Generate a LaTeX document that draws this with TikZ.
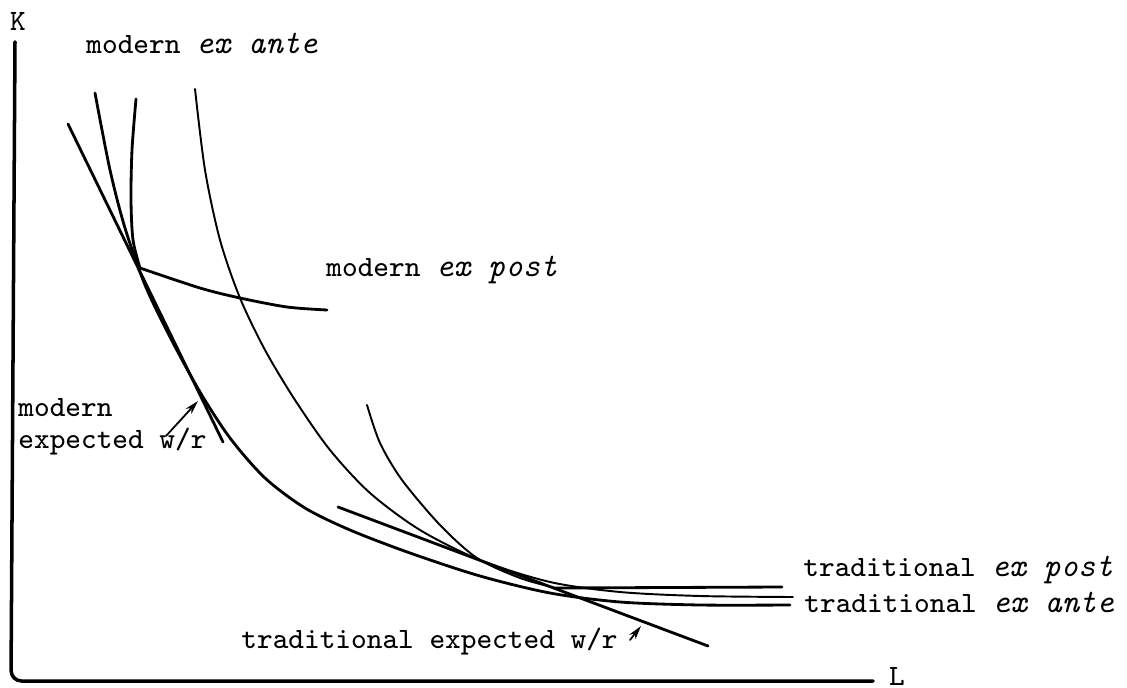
\documentclass[tikz,border=0pt]{standalone}
\usetikzlibrary{arrows.meta}
\newcommand{\exit}[1]{{\fontsize{9.4}{9.1}\selectfont\itshape #1}}
\begin{document}
\begin{tikzpicture}[line width=0.8pt, line cap=round, line join=round,
  lbl/.style={font=\fontsize{8.4}{9.1}\selectfont\ttfamily, inner sep=0pt},
  iso/.style={line width=0.8pt},
  isothin/.style={line width=0.55pt},
  pointer/.style={line width=0.5pt, -{Stealth[length=4pt,width=2.2pt]}}]
  \useasboundingbox (0,0) rectangle (11.27,6.87);
  % axes
  \coordinate (ktop) at (0.15,6.45);
  \coordinate (origin) at (0.11,0.06);
  \coordinate (lend) at (8.73,0.06);
  \draw[line width=1pt, rounded corners=3pt] (ktop) -- (origin) -- (lend);
  \node[lbl] (klab) at (0.18,6.66) {K};
  \node[lbl] (llab) at (8.97,0.11) {L};
  % big ex ante isoquant
  \draw[iso] plot[smooth] coordinates {(0.95,5.94) (1.10,5.17) (1.25,4.59) (1.45,4.02)
    (1.70,3.50) (2.00,2.95) (2.30,2.49) (2.65,2.09) (3.05,1.79) (3.50,1.57)
    (4.10,1.34) (4.80,1.11) (5.50,0.94) (6.20,0.85) (7.00,0.82) (7.90,0.82)};
  % modern ex post (kinked)
  \coordinate (kinkM) at (1.40,4.19);
  \draw[iso] plot[smooth] coordinates {(1.36,5.88) (1.32,5.37) (1.31,4.87) (1.33,4.47) (kinkM)};
  \draw[iso] plot[smooth] coordinates {(kinkM) (2.00,3.99) (2.40,3.89) (2.87,3.80) (3.27,3.77)};
  % second ex ante isoquant
  \draw[isothin] plot[smooth] coordinates {(1.95,5.98) (2.05,5.17) (2.20,4.47) (2.40,3.89)
    (2.65,3.37) (2.95,2.87) (3.30,2.37) (3.70,1.94) (4.20,1.57) (4.80,1.27)
    (5.50,1.05) (6.20,0.95) (7.00,0.91) (7.93,0.90)};
  % traditional ex post (kinked)
  \coordinate (kinkT) at (5.56,0.99);
  \draw[isothin] plot[smooth] coordinates {(3.67,2.82) (3.80,2.44) (4.02,2.07) (4.40,1.62)
    (4.77,1.29) (5.20,1.09) (kinkT)};
  \draw[iso] (kinkT) -- (7.82,1.00);
  % expected w/r lines
  \coordinate (mw1) at (0.68,5.63);
  \coordinate (mw2) at (2.23,2.45);
  \draw[iso] (mw1) -- (mw2);
  \coordinate (tw1) at (3.38,1.80);
  \coordinate (tw2) at (7.08,0.41);
  \draw[iso] (tw1) -- (tw2);
  % labels
  \node[lbl, anchor=west] (mante) at (0.85,6.44) {modern \exit{ex ante}};
  \node[lbl, anchor=west] (mpost) at (3.25,4.17) {modern \exit{ex post}};
  \node[lbl, anchor=west, align=left] (mwr) at (0.17,2.60) {modern\\expected w/r};
  \node[lbl, anchor=west] (twr) at (2.40,0.45) {traditional expected w/r};
  \node[lbl, anchor=west] (tpost) at (8.02,1.17) {traditional \exit{ex post}};
  \node[lbl, anchor=west] (tante) at (8.03,0.85) {traditional \exit{ex ante}};
  % pointers
  \coordinate (mtail) at (1.66,2.51);
  \coordinate (mtip) at (1.98,2.86);
  \draw[pointer] (mtail) -- (mtip);
  \coordinate (ttail) at (6.30,0.47);
  \coordinate (ttip) at (6.41,0.61);
  \draw[pointer] (ttail) -- (ttip);
\end{tikzpicture}
\end{document}
